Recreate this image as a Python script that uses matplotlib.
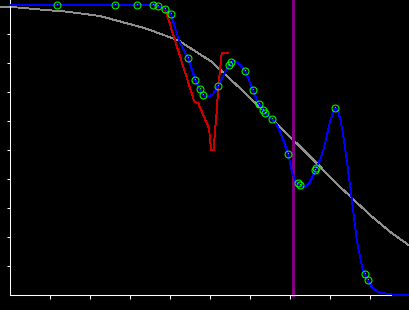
"""
	plot.py
"""

import matplotlib
matplotlib.use("Agg")
import matplotlib.pyplot as plt

# measured samples
sample_x = [1.175, 2.618, 3.168, 3.568, 3.693, 3.868, 4.018, 4.450, 4.625, 4.743,
	4.818, 5.193, 5.468, 5.518, 5.875, 6.060, 6.218, 6.325, 6.375, 6.550,
	6.950, 7.200, 7.250, 7.625, 7.650, 8.125, 8.868, 8.943]
sample_y = [1.000, 1.000, 1.000, 1.000, 0.996, 0.985, 0.968, 0.816, 0.740, 0.709,
	0.688, 0.720, 0.793, 0.803, 0.771, 0.707, 0.658, 0.638, 0.627, 0.607,
	0.485, 0.386, 0.378, 0.430, 0.439, 0.644, 0.072, 0.051]

# smooth curve through the samples
smooth_x = [0.0, 3.568, 3.693, 3.868, 4.018, 4.118, 4.243, 4.450, 4.543, 4.625,
	4.743, 4.818, 4.943, 5.068, 5.193, 5.343, 5.468, 5.518, 5.580, 5.668,
	5.768, 5.875, 5.968, 6.060, 6.143, 6.218, 6.325, 6.375, 6.550, 6.643,
	6.743, 6.843, 6.950, 7.043, 7.118, 7.200, 7.250, 7.368, 7.493, 7.625,
	7.650, 7.743, 7.825, 7.918, 7.993, 8.068, 8.130, 8.193, 8.260, 8.343,
	8.510, 8.660, 8.790, 8.868, 8.950, 9.075, 9.243, 9.493, 9.618, 9.993]
smooth_y = [1.0, 1.0, 0.996, 0.985, 0.968, 0.921, 0.869, 0.816, 0.776, 0.740,
	0.709, 0.689, 0.683, 0.693, 0.720, 0.759, 0.793, 0.803, 0.807, 0.803,
	0.790, 0.771, 0.741, 0.707, 0.679, 0.658, 0.638, 0.627, 0.607, 0.590,
	0.562, 0.528, 0.4845, 0.424, 0.397, 0.386, 0.378, 0.371, 0.390, 0.430,
	0.439, 0.466, 0.500, 0.552, 0.597, 0.628, 0.647, 0.634, 0.603, 0.534,
	0.362, 0.190, 0.100, 0.072, 0.049, 0.021, 0.008, 0.003, 0.0, 0.0]

# piecewise estimate
piece_x = [3.855, 4.600, 4.700, 4.968, 5.018, 5.085, 5.118, 5.160, 5.200, 5.243, 5.285, 5.450]
piece_y = [0.993, 0.667, 0.661, 0.575, 0.500, 0.500, 0.569, 0.632, 0.718, 0.776, 0.833, 0.833]

# fitted trend
trend_x = [-0.2575, 0.243, 0.693, 1.41, 2.243, 3.068, 3.368, 4.2, 5.035, 5.743,
	6.575, 7.035, 7.41, 8.243, 8.993, 9.493, 9.993]
trend_y = [0.994, 0.991, 0.985, 0.977, 0.962, 0.931, 0.920, 0.878, 0.804, 0.713,
	0.603, 0.540, 0.489, 0.373, 0.276, 0.218, 0.169]

threshold = 7.06

x_ticks = [1, 2, 3, 4, 5, 6, 7, 8, 9]
y_ticks = [0.1, 0.2, 0.3, 0.4, 0.5, 0.6, 0.7, 0.8, 0.9]


def main():
	plt.rcParams["lines.antialiased"] = False

	fig = plt.figure(figsize=(4.1, 3.1), dpi=100, facecolor="black")
	ax = fig.add_axes([0, 0, 1, 1], facecolor="black")

	ax.plot(trend_x, trend_y, color="#8f8f8f", lw=0.65, clip_on=False)
	ax.plot(piece_x, piece_y, color="#cc0000", lw=0.65)
	ax.plot(smooth_x, smooth_y, color="#0000ff", lw=0.65, zorder=3)
	ax.plot([threshold, threshold], [0, 1.1], color="#800080", lw=0.8)
	ax.plot(sample_x, sample_y, "o", mfc="none", mec="#00ff00", ms=5, mew=0.75, zorder=4)
	ax.plot(sample_x, sample_y, ",", color="#00ff00", zorder=4)

	ax.set_xlim(-0.2575, 9.9925)
	ax.set_ylim(-0.0517, 1.0172)

	for side in ["top", "right"]:
		ax.spines[side].set_visible(False)
	ax.spines["left"].set_position(("data", 0))
	ax.spines["bottom"].set_position(("data", 0))
	ax.spines["left"].set_bounds(0, 1.0172)
	ax.spines["bottom"].set_bounds(0, 9.62)
	for side in ["left", "bottom"]:
		ax.spines[side].set_color("white")
		ax.spines[side].set_linewidth(0.75)

	ax.set_xticks(x_ticks)
	ax.set_yticks(y_ticks)
	ax.set_xticklabels([])
	ax.set_yticklabels([])
	ax.tick_params(axis="x", colors="white", direction="out", length=3, width=0.75)
	ax.tick_params(axis="y", colors="white", direction="out", length=2.3, width=0.75)

	fig.savefig("out.png", dpi=100, facecolor="black")


if __name__ == "__main__":
	main()
